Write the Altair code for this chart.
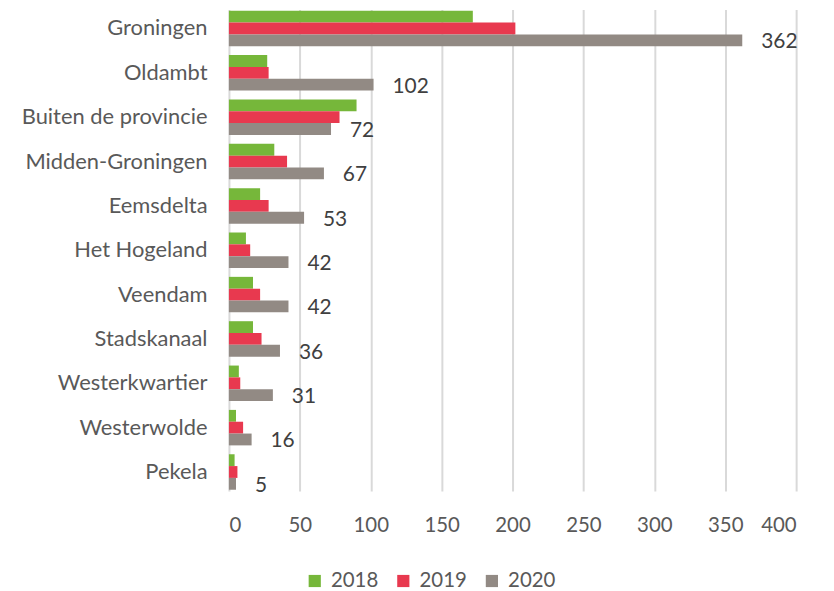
import altair as alt
import pandas as pd

categories = ["Groningen", "Oldambt", "Buiten de provincie", "Midden-Groningen", "Eemsdelta",
              "Het Hogeland", "Veendam", "Stadskanaal", "Westerkwartier", "Westerwolde", "Pekela"]
years = ["2018", "2019", "2020"]
v2018 = [172, 27, 90, 32, 22, 12, 17, 17, 7, 5, 4]
v2019 = [202, 28, 78, 41, 28, 15, 22, 23, 8, 10, 6]
v2020 = [362, 102, 72, 67, 53, 42, 42, 36, 31, 16, 5]
colors = ["#76B73A", "#E8394F", "#928A84"]

rows = []
for i, c in enumerate(categories):
    for y, vals in zip(years, [v2018, v2019, v2020]):
        rows.append({"cat": c, "year": y, "value": vals[i]})
df = pd.DataFrame(rows)

FONT = "Lato"

y_enc = alt.Y("cat:N", sort=categories, title=None,
              scale=alt.Scale(paddingInner=0.2, paddingOuter=0.03),
              axis=alt.Axis(ticks=False, domain=False, labelPadding=22, labelFontSize=22,
                            labelLimit=400,
                            labelColor="#595959", labelFont=FONT, grid=False))
yoff = alt.YOffset("year:N", sort=years, scale=alt.Scale(paddingInner=0))

bars = alt.Chart(df).mark_bar().encode(
    x=alt.X("value:Q", title=None,
            scale=alt.Scale(domain=[0, 400], nice=False),
            axis=alt.Axis(values=list(range(0, 401, 50)), ticks=False, domain=False,
                          labelPadding=25, labelFontSize=20.5, labelColor="#595959",
                          labelFont=FONT, gridColor="#d9d9d9", gridWidth=2)),
    y=y_enc,
    yOffset=yoff,
    color=alt.Color("year:N", sort=years,
                    scale=alt.Scale(domain=years, range=colors),
                    legend=alt.Legend(title=None, orient="none", direction="horizontal",
                                      legendX=76, legendY=564, symbolType="square",
                                      symbolSize=150, symbolStrokeWidth=0,
                                      labelFontSize=20.5, labelColor="#595959",
                                      labelFont=FONT, columnPadding=14, labelOffset=6)),
)

labels = alt.Chart(df[df["year"] == "2020"]).mark_text(
    align="left", baseline="middle", dx=19, dy=2, fontSize=21, color="#404040", font=FONT
).encode(
    x="value:Q",
    y=alt.Y("cat:N", sort=categories),
    yOffset=yoff,
    text="value:Q",
)

chart = (bars + labels).properties(
    width=570, height=484,
    padding={"left": 222, "top": 0, "right": 30, "bottom": 100},
    autosize=alt.AutoSizeParams(type="none"),
).configure_view(stroke=None)

chart.save("out.html", embed_options={"renderer": "svg", "actions": False})
